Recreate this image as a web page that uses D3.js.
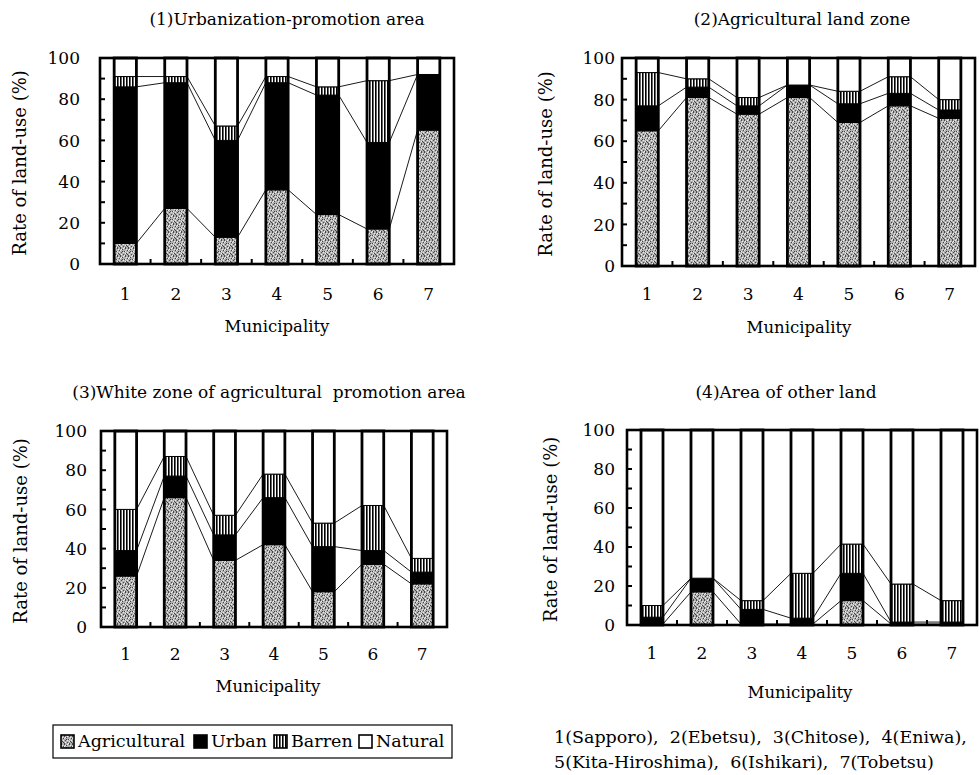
<!DOCTYPE html>
<html>
<head>
<meta charset="utf-8">
<script src="https://cdn.jsdelivr.net/npm/d3@7"></script>
<style>
  body { margin: 0; background: #fff; }
  svg { display: block; }
  text { font-family: "DejaVu Serif", "Liberation Serif", serif; fill: #000; }
</style>
</head>
<body>
<div id="chart"></div>
<script>
// Municipalities and land-use categories
var municipalities = ["1", "2", "3", "4", "5", "6", "7"];
var keys = ["Agricultural", "Urban", "Barren", "Natural"];
var yTicks = [0, 20, 40, 60, 80, 100];

// (1) Urbanization-promotion area (%)
var urbAgri    = [10, 27, 13, 36, 24, 17, 65];
var urbUrban   = [76, 61, 47, 52, 58, 42, 27];
var urbBarren  = [5, 3, 7, 3, 4, 30, 0];
var urbNatural = [9, 9, 33, 9, 14, 11, 8];

// (2) Agricultural land zone (%)
var agrAgri    = [65, 81, 73, 81, 69, 77, 71];
var agrUrban   = [12, 5, 4, 6, 9, 6, 4];
var agrBarren  = [16, 4, 4, 0, 6, 8, 5];
var agrNatural = [7, 10, 19, 13, 16, 9, 20];

// (3) White zone of agricultural promotion area (%)
var whtAgri    = [26, 66, 34, 42, 18, 32, 22];
var whtUrban   = [13, 11, 13, 24, 23, 7, 6];
var whtBarren  = [21, 10, 10, 12, 12, 23, 7];
var whtNatural = [40, 13, 43, 22, 47, 38, 65];

// (4) Area of other land (%)
var othAgri    = [0.5, 17, 0.5, 0.5, 12.5, 0.5, 0.5];
var othUrban   = [3.5, 7, 7.5, 3, 14, 1, 1];
var othBarren  = [6, 0, 4.5, 23, 15, 19.5, 11];
var othNatural = [90, 76, 87.5, 73.5, 58.5, 79, 87.5];

var panels = [
  { title: "(1)Urbanization-promotion area", series: [urbAgri, urbUrban, urbBarren, urbNatural],
    x0: 100, x1: 454, y0: 58, y1: 264, tx: 287, ty: 25, lblX: 80, axX: 20, xtY: 300, mX: 277, mY: 332 },
  { title: "(2)Agricultural land zone", series: [agrAgri, agrUrban, agrBarren, agrNatural],
    x0: 622, x1: 975, y0: 58, y1: 266, tx: 802, ty: 25, lblX: 615, axX: 546, xtY: 300, mX: 799, mY: 333 },
  { title: "(3)White zone of agricultural  promotion area", series: [whtAgri, whtUrban, whtBarren, whtNatural],
    x0: 101, x1: 447, y0: 431, y1: 627, tx: 269, ty: 398, lblX: 87, axX: 21, xtY: 660, mX: 268, mY: 692 },
  { title: "(4)Area of other land", series: [othAgri, othUrban, othBarren, othNatural],
    x0: 627, x1: 977, y0: 430, y1: 625, tx: 786, ty: 398, lblX: 615, axX: 551, xtY: 659, mX: 800, mY: 698 }
];

var W = 979, H = 775;

var svg = d3.select("#chart")
  .append("svg")
  .attr("width", W)
  .attr("height", H);

// Fill patterns (grey stipple, black, vertical stripes, white)
var defs = svg.append("defs");

var agriPat = defs.append("pattern")
  .attr("id", "pat-agri")
  .attr("patternUnits", "userSpaceOnUse")
  .attr("width", 8).attr("height", 8);
agriPat.append("rect").attr("width", 8).attr("height", 8).attr("fill", "#b0b0b0");
// dark specks
[[0, 0], [5, 0], [2, 1], [7, 2], [4, 3], [1, 4], [6, 5], [3, 6], [0, 7], [5, 7], [2, 3], [7, 6]].forEach(function (p) {
  agriPat.append("rect").attr("x", p[0]).attr("y", p[1]).attr("width", 1).attr("height", 1).attr("fill", "#454545");
});
// light specks
[[3, 0], [6, 1], [0, 2], [5, 3], [3, 4], [7, 4], [1, 6], [5, 5], [4, 7], [1, 1]].forEach(function (p) {
  agriPat.append("rect").attr("x", p[0]).attr("y", p[1]).attr("width", 1).attr("height", 1).attr("fill", "#ececec");
});

var barrenPat = defs.append("pattern")
  .attr("id", "pat-barren")
  .attr("patternUnits", "userSpaceOnUse")
  .attr("width", 3).attr("height", 6);
barrenPat.append("rect").attr("width", 3).attr("height", 6).attr("fill", "#fff");
barrenPat.append("rect").attr("width", 1.6).attr("height", 6).attr("fill", "#000");

var fills = {
  Agricultural: "url(#pat-agri)",
  Urban: "#000",
  Barren: "url(#pat-barren)",
  Natural: "#fff"
};

panels.forEach(function (p) {
  var rows = municipalities.map(function (m, i) {
    var r = { m: m };
    keys.forEach(function (k, j) { r[k] = p.series[j][i]; });
    return r;
  });
  var stacked = d3.stack().keys(keys)(rows);

  var x = d3.scaleBand()
    .domain(municipalities)
    .range([p.x0, p.x1])
    .paddingInner(0.56)
    .paddingOuter(0.28);

  var y = d3.scaleLinear()
    .domain([0, 100])
    .range([p.y1, p.y0]);

  var g = svg.append("g");

  // plot background
  g.append("rect")
    .attr("x", p.x0).attr("y", p.y0)
    .attr("width", p.x1 - p.x0).attr("height", p.y1 - p.y0)
    .attr("fill", "#fff");

  // stacked segments
  g.selectAll(".layer")
    .data(stacked)
    .enter()
    .append("g")
    .attr("fill", function (s) { return fills[s.key]; })
    .selectAll("rect")
    .data(function (s) { return s; })
    .enter()
    .append("rect")
    .attr("x", function (d) { return x(d.data.m); })
    .attr("y", function (d) { return y(d[1]); })
    .attr("width", x.bandwidth())
    .attr("height", function (d) { return y(d[0]) - y(d[1]); })
    .attr("stroke", "#000")
    .attr("stroke-width", 1);

  // whole bar outline
  g.selectAll(".outline")
    .data(municipalities)
    .enter()
    .append("rect")
    .attr("x", function (d) { return x(d); })
    .attr("y", y(100))
    .attr("width", x.bandwidth())
    .attr("height", y(0) - y(100))
    .attr("fill", "none")
    .attr("stroke", "#000")
    .attr("stroke-width", 2.8);

  // connecting lines between neighbouring bars
  stacked.slice(0, 3).forEach(function (s) {
    for (var i = 0; i < s.length - 1; i++) {
      g.append("line")
        .attr("x1", x(municipalities[i]) + x.bandwidth())
        .attr("y1", y(s[i][1]))
        .attr("x2", x(municipalities[i + 1]))
        .attr("y2", y(s[i + 1][1]))
        .attr("stroke", "#000")
        .attr("stroke-width", 0.9);
    }
  });

  // frame
  g.append("rect")
    .attr("x", p.x0).attr("y", p.y0)
    .attr("width", p.x1 - p.x0).attr("height", p.y1 - p.y0)
    .attr("fill", "none")
    .attr("stroke", "#000")
    .attr("stroke-width", 2.6);

  // inner y ticks every 10
  g.selectAll(".ytick")
    .data(d3.range(10, 100, 10))
    .enter()
    .append("line")
    .attr("x1", p.x0).attr("x2", p.x0 + 5)
    .attr("y1", function (d) { return y(d); })
    .attr("y2", function (d) { return y(d); })
    .attr("stroke", "#000")
    .attr("stroke-width", 2);

  // inner x ticks between bars
  g.selectAll(".xtick")
    .data(municipalities.slice(1))
    .enter()
    .append("line")
    .attr("x1", function (d) { return x(d) - x.step() * x.paddingInner() / 2; })
    .attr("x2", function (d) { return x(d) - x.step() * x.paddingInner() / 2; })
    .attr("y1", p.y1).attr("y2", p.y1 - 5)
    .attr("stroke", "#000")
    .attr("stroke-width", 2);

  // y tick labels
  g.selectAll(".ylab")
    .data(yTicks)
    .enter()
    .append("text")
    .attr("x", p.lblX)
    .attr("y", function (d) { return y(d); })
    .attr("dy", "0.36em")
    .attr("text-anchor", "end")
    .style("font-size", "17px")
    .text(function (d) { return d; });

  // x tick labels
  g.selectAll(".xlab")
    .data(municipalities)
    .enter()
    .append("text")
    .attr("x", function (d) { return x(d) + x.bandwidth() / 2; })
    .attr("y", p.xtY)
    .attr("text-anchor", "middle")
    .style("font-size", "17px")
    .text(function (d) { return d; });

  // titles and axis labels
  g.append("text")
    .attr("x", p.tx).attr("y", p.ty)
    .attr("text-anchor", "middle")
    .style("font-size", "17px")
    .style("white-space", "pre")
    .text(p.title);

  g.append("text")
    .attr("transform", "translate(" + p.axX + "," + ((p.y0 + p.y1) / 2 + 2) + ")rotate(-90)")
    .attr("text-anchor", "middle")
    .attr("dy", "0.36em")
    .style("font-size", "18px")
    .text("Rate of land-use (%)");

  g.append("text")
    .attr("x", p.mX).attr("y", p.mY)
    .attr("text-anchor", "middle")
    .style("font-size", "16.5px")
    .text("Municipality");
});

// Legend
var legendX = [61, 194, 274, 359];
var legend = svg.append("g");
legend.append("rect")
  .attr("x", 53).attr("y", 725)
  .attr("width", 399).attr("height", 33)
  .attr("fill", "#fff")
  .attr("stroke", "#000")
  .attr("stroke-width", 1.2);

keys.forEach(function (k, i) {
  legend.append("rect")
    .attr("x", legendX[i]).attr("y", 735)
    .attr("width", 13).attr("height", 13)
    .attr("fill", fills[k])
    .attr("stroke", "#000")
    .attr("stroke-width", 1.6);
  legend.append("text")
    .attr("x", legendX[i] + 17).attr("y", 747)
    .style("font-size", "17.5px")
    .text(k);
});

// Municipality key
var notes = ["1(Sapporo),  2(Ebetsu),  3(Chitose),  4(Eniwa),",
             "5(Kita-Hiroshima),  6(Ishikari),  7(Tobetsu)"];
svg.selectAll(".note")
  .data(notes)
  .enter()
  .append("text")
  .attr("x", 554)
  .attr("y", function (d, i) { return 743 + i * 25; })
  .style("font-size", "17.5px")
  .style("white-space", "pre")
  .text(function (d) { return d; });
</script>
</body>
</html>
